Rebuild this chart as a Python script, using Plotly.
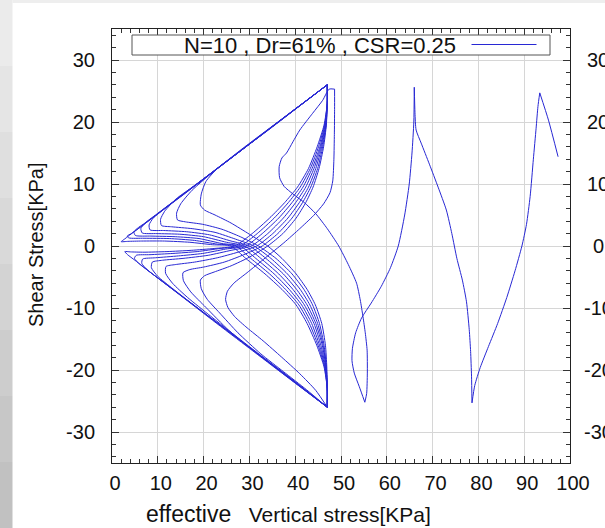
import plotly.graph_objects as go

# ---------------- data ----------------
# first loading: start -> peak near 93
start_x = [97.4, 95.3, 93.4]
start_y = [14.4, 20.3, 24.7]
# unloading: peak 93 -> cusp 78.6
unload1_x = [93.0, 92.6, 92.0, 91.3, 90.5, 89.5, 88.0, 86.2, 84.2, 82.2, 80.4, 79.2, 78.6]
unload1_y = [22.5, 19.0, 14.0, 8.0, 3.5, 0.0, -4.0, -8.3, -12.5, -16.2, -19.6, -22.5, -25.3]
# reloading: cusp 78.6 -> spike 66
reload1_x = [78.5, 78.3, 78.0, 77.4, 76.5, 75.3, 74.2, 73.0, 71.2, 69.3, 67.5, 66.4, 66.15, 66.0]
reload1_y = [-21.0, -17.0, -13.5, -9.0, -5.5, -2.0, 2.0, 5.8, 9.5, 13.2, 16.6, 18.7, 21.5, 25.6]
# unloading: spike 66 -> cusp 55
unload2_x = [65.9, 65.5, 64.9, 63.9, 62.5, 60.8, 58.8, 56.6, 54.5, 53.2, 52.5, 52.4, 52.9, 54.0, 55.2]
unload2_y = [20.0, 15.0, 10.0, 5.0, 0.0, -3.5, -6.5, -9.2, -11.6, -14.0, -16.5, -18.5, -20.5, -22.7, -25.2]
# reload from cusp at 55 up to the first top of the butterfly
approach_x = [55.6, 55.75, 55.7, 55.3, 54.8, 54.2, 53.4, 51.6, 49.5, 47.0, 44.5, 42.0, 39.5, 37.6, 36.6,
              36.5, 37.1, 38.1, 39.5, 41.0, 43.8, 46.0, 47.4, 48.6]
approach_y = [-23.8, -20.5, -16.8, -14.0, -11.4, -8.7, -6.0, -3.0, 0.0, 2.8, 5.2, 7.0, 8.4, 9.6, 11.0,
              12.8, 14.2, 15.0, 16.8, 18.7, 21.4, 23.5, 25.3, 25.3]

# butterfly: descending (top -> knee -> bottom) and ascending (bottom -> knee -> top) branches
d1_x = [48.6, 48.55, 48.45, 48.2, 47.6, 46.2, 44.0, 41.0, 37.5, 33.5, 29.5, 26.6, 25.2, 24.8, 25.3, 26.8, 29.5, 33.0, 37.0, 41.0, 44.5, 47.0]
d1_y = [22.0, 18.0, 14.0, 10.5, 8.6, 6.8, 4.9, 2.8, 0.5, -1.9, -4.3, -6.0, -7.3, -8.6, -9.9, -11.4, -13.2, -15.3, -17.9, -20.6, -23.3, -26.0]
a1_x = [47.0, 46.9, 46.6, 45.8, 44.4, 42.6, 40.2, 37.1, 34.0, 30.0, 26.0, 22.5, 20.2, 19.3, 19.5, 20.5, 23.0, 28.0, 34.0, 40.0, 44.0, 47.0]
a1_y = [-23.0, -19.5, -16.0, -12.5, -9.5, -7.0, -4.5, -2.0, 0.0, 1.9, 3.7, 5.0, 5.8, 6.6, 8.4, 10.4, 12.5, 15.3, 18.7, 22.1, 24.3, 26.0]
d2_x = [47.0, 46.8, 46.2, 45.2, 43.9, 42.3, 40.2, 37.3, 34.0, 30.0, 26.0, 22.3, 20.2, 19.3, 19.5, 20.8, 23.5, 27.5, 32.5, 37.5, 42.5, 47.0]
d2_y = [23.0, 19.5, 16.0, 12.5, 9.5, 7.0, 4.5, 2.0, 0.0, -1.8, -3.2, -4.2, -4.8, -5.5, -6.9, -8.6, -10.8, -14.0, -17.4, -20.3, -23.2, -26.0]
a2_x = [47.0, 46.8, 46.3, 45.3, 43.8, 41.9, 39.3, 35.8, 32.0, 28.0, 24.0, 19.8, 16.0, 14.3, 14.1, 15.0, 17.5, 22.0, 28.0, 34.5, 41.0, 47.0]
a2_y = [-23.0, -19.5, -16.0, -12.5, -9.5, -7.0, -4.5, -2.0, 0.0, 1.5, 2.7, 3.5, 3.9, 4.2, 5.3, 6.8, 9.0, 11.9, 15.3, 18.9, 22.6, 26.0]
d3_x = [47.0, 46.75, 46.0, 44.9, 43.4, 41.6, 39.3, 36.2, 32.8, 28.8, 24.5, 20.0, 17.0, 15.5, 15.6, 17.2, 20.5, 25.5, 31.5, 37.5, 42.5, 47.0]
d3_y = [23.0, 19.5, 16.0, 12.5, 9.5, 7.0, 4.5, 2.0, 0.0, -1.4, -2.6, -3.4, -3.8, -4.3, -5.6, -7.4, -9.9, -13.6, -17.2, -20.5, -23.4, -26.0]
a3_x = [47.0, 46.75, 46.1, 44.9, 43.2, 41.1, 38.3, 34.7, 31.0, 27.0, 22.5, 17.5, 13.0, 10.8, 10.6, 11.5, 14.0, 18.5, 25.0, 32.0, 39.5, 47.0]
a3_y = [-23.0, -19.5, -16.0, -12.5, -9.5, -7.0, -4.5, -2.0, 0.0, 1.1, 2.2, 2.8, 3.1, 3.3, 4.3, 5.6, 7.6, 10.0, 13.6, 17.6, 21.8, 26.0]
d4_x = [47.0, 46.7, 45.8, 44.5, 42.9, 40.9, 38.4, 35.1, 31.6, 27.5, 23.0, 18.0, 13.8, 11.8, 11.7, 13.2, 16.5, 21.5, 27.5, 34.0, 40.5, 47.0]
d4_y = [23.0, 19.5, 16.0, 12.5, 9.5, 7.0, 4.5, 2.0, 0.0, -1.0, -1.9, -2.6, -3.0, -3.3, -4.4, -6.0, -8.3, -11.3, -14.8, -18.5, -22.2, -26.0]
a4_x = [47.0, 46.7, 45.9, 44.5, 42.6, 40.3, 37.4, 33.6, 30.0, 26.0, 21.3, 16.3, 11.3, 8.3, 8.1, 9.0, 11.5, 16.0, 23.0, 31.0, 39.0, 47.0]
a4_y = [-23.0, -19.5, -16.0, -12.5, -9.5, -7.0, -4.5, -2.0, 0.0, 0.8, 1.8, 2.3, 2.5, 2.6, 3.4, 4.5, 6.0, 8.5, 12.5, 17.0, 21.5, 26.0]
d5_x = [47.0, 46.6, 45.6, 44.1, 42.3, 40.1, 37.4, 34.0, 30.4, 26.0, 21.0, 15.5, 11.0, 8.8, 8.6, 10.0, 13.3, 18.5, 25.5, 32.5, 39.5, 47.0]
d5_y = [23.0, 19.5, 16.0, 12.5, 9.5, 7.0, 4.5, 2.0, 0.0, -0.7, -1.5, -2.0, -2.3, -2.6, -3.5, -4.9, -6.9, -9.9, -13.8, -17.8, -21.8, -26.0]
a5_x = [47.0, 46.6, 45.6, 44.1, 42.0, 39.5, 36.4, 32.5, 29.0, 25.0, 20.0, 14.8, 9.8, 6.6, 6.3, 7.2, 9.5, 14.0, 21.0, 29.0, 38.0, 47.0]
a5_y = [-23.0, -19.5, -16.0, -12.5, -9.5, -7.0, -4.5, -2.0, 0.0, 0.6, 1.5, 1.9, 2.0, 2.1, 2.8, 3.7, 5.0, 7.5, 11.4, 16.0, 21.0, 26.0]
d6_x = [47.0, 46.5, 45.4, 43.7, 41.7, 39.3, 36.4, 32.8, 29.2, 24.8, 19.8, 14.5, 9.5, 6.7, 6.5, 7.8, 11.0, 16.0, 23.0, 31.0, 39.0, 47.0]
d6_y = [23.0, 19.5, 16.0, 12.5, 9.5, 7.0, 4.5, 2.0, 0.0, -0.5, -1.2, -1.6, -1.9, -2.1, -2.8, -3.9, -5.7, -8.5, -12.4, -16.9, -21.4, -26.0]
a6_x = [47.0, 46.5, 45.3, 43.6, 41.4, 38.7, 35.4, 31.4, 28.0, 24.0, 19.0, 13.8, 8.5, 5.1, 4.8, 5.8, 8.0, 12.5, 19.5, 27.5, 37.0, 47.0]
a6_y = [-23.0, -19.5, -16.0, -12.5, -9.5, -7.0, -4.5, -2.0, 0.0, 0.4, 1.2, 1.5, 1.6, 1.7, 2.3, 3.0, 4.1, 6.6, 10.5, 15.0, 20.4, 26.0]
d7_x = [47.0, 46.4, 45.1, 43.3, 41.1, 38.5, 35.4, 31.7, 28.0, 23.6, 18.6, 13.3, 8.3, 5.3, 4.9, 6.0, 9.0, 14.0, 21.0, 29.0, 38.0, 47.0]
d7_y = [23.0, 19.5, 16.0, 12.5, 9.5, 7.0, 4.5, 2.0, 0.0, -0.4, -0.9, -1.2, -1.4, -1.5, -2.0, -2.9, -4.6, -7.4, -11.3, -15.8, -20.9, -26.0]
a7_x = [47.0, 46.4, 45.0, 43.1, 40.8, 37.9, 34.4, 30.3, 27.0, 23.0, 18.0, 12.5, 7.0, 3.7, 3.3, 4.2, 6.5, 11.0, 18.0, 26.0, 36.0, 47.0]
a7_y = [-23.0, -19.5, -16.0, -12.5, -9.5, -7.0, -4.5, -2.0, 0.0, 0.3, 0.9, 1.2, 1.25, 1.3, 1.6, 2.0, 3.2, 5.8, 9.7, 14.2, 19.8, 26.0]
d8_x = [47.0, 46.3, 44.8, 42.9, 40.5, 37.7, 34.4, 30.6, 26.8, 22.3, 17.3, 12.0, 7.0, 4.0, 2.8, 3.4, 5.0, 9.0, 15.0, 22.0, 30.0, 38.0, 47.0]
d8_y = [23.0, 19.5, 16.0, 12.5, 9.5, 7.0, 4.5, 2.0, 0.0, -0.4, -0.7, -0.9, -1.0, -0.95, -0.9, -1.4, -2.3, -4.6, -8.0, -12.0, -16.5, -21.0, -26.0]
a8_x = [47.0, 46.3, 44.7, 42.6, 40.2, 37.1, 33.4, 29.2, 26.0, 22.0, 17.0, 11.5, 6.5, 3.5, 2.0, 2.8, 5.0, 9.5, 16.0, 24.0, 34.0, 47.0]
a8_y = [-23.0, -19.5, -16.0, -12.5, -9.5, -7.0, -4.5, -2.0, 0.0, 0.2, 0.6, 0.8, 0.8, 0.75, 0.7, 1.15, 2.4, 4.9, 8.6, 13.1, 18.7, 26.0]

legend_text = "N=10 , Dr=61% , CSR=0.25"
x_ticks = [0, 10, 20, 30, 40, 50, 60, 70, 80, 90, 100]
y_ticks = [30, 20, 10, 0, -10, -20, -30]

# ---------------- build path (one trace per branch so the reversal points stay sharp) ----------------
segments = [(start_x, start_y), (unload1_x, unload1_y), (reload1_x, reload1_y),
            (unload2_x, unload2_y), (approach_x, approach_y),
            (d1_x, d1_y), (a1_x, a1_y), (d2_x, d2_y), (a2_x, a2_y),
            (d3_x, d3_y), (a3_x, a3_y), (d4_x, d4_y), (a4_x, a4_y),
            (d5_x, d5_y), (a5_x, a5_y), (d6_x, d6_y), (a6_x, a6_y),
            (d7_x, d7_y), (a7_x, a7_y), (d8_x, d8_y), (a8_x, a8_y)]

LINE = "rgb(40,40,212)"
FONT = "Liberation Sans, Arial, sans-serif"

fig = go.Figure()
prev = None
for sx, sy in segments:
    bx = ([prev[0]] if prev else []) + list(sx)
    by = ([prev[1]] if prev else []) + list(sy)
    fig.add_trace(go.Scatter(x=bx, y=by, mode="lines",
                             line=dict(color=LINE, width=1, shape="spline", smoothing=0.6),
                             showlegend=False, hoverinfo="skip"))
    prev = (sx[-1], sy[-1])

W, H = 605, 528
L, R, T, B = 112, 35, 29, 65
pw, ph = W - L - R, H - T - B

def px(xp):
    return (xp - L) / pw

def py(yp):
    return (H - B - yp) / ph

axis_common = dict(showline=True, linecolor="#222", linewidth=1, mirror="allticks",
                   ticks="inside", ticklen=7, tickcolor="#333", tickwidth=1,
                   showgrid=True, gridcolor="#d6d6d6", gridwidth=1, zeroline=False,
                   tickfont=dict(family=FONT, size=20, color="#111"))

fig.update_xaxes(range=[0, 100], tickvals=x_ticks, ticktext=[str(v) for v in x_ticks],
                 minor=dict(dtick=2, ticks="inside", ticklen=4, tickcolor="#333", showgrid=False),
                 ticklabelstandoff=2, ticklabelshift=3, **axis_common)
fig.update_yaxes(range=[-35, 35], tickvals=y_ticks, ticktext=[str(v) for v in y_ticks],
                 minor=dict(dtick=2, ticks="inside", ticklen=4, tickcolor="#333", showgrid=False),
                 ticklabelstandoff=12, **axis_common)

shapes = []
# gray frame around the white panel (left strip with gradient, thin top strip)
grays = ["#ebebeb", "#e5e5e5", "#dfdfdf", "#d9d9d9", "#d3d3d3", "#cdcdcd", "#c7c7c7", "#c1c1c1"]
nb = len(grays)
for i, g in enumerate(grays):
    y_top = i * H / nb
    y_bot = (i + 1) * H / nb
    shapes.append(dict(type="rect", xref="paper", yref="paper", x0=px(0), x1=px(12.5),
                       y0=py(y_bot), y1=py(y_top), fillcolor=g, line=dict(width=0), layer="below"))
shapes.append(dict(type="rect", xref="paper", yref="paper", x0=px(12.5), x1=px(W),
                   y0=py(3), y1=py(0), fillcolor="#eeeeee", line=dict(width=0), layer="below"))
# legend box and sample line
shapes.append(dict(type="rect", xref="paper", yref="paper", x0=px(132), x1=px(550),
                   y0=py(55), y1=py(35), fillcolor="white", line=dict(color="#555", width=1), layer="above"))
shapes.append(dict(type="line", xref="paper", yref="paper", x0=px(471.5), x1=px(536.5),
                   y0=py(44.5), y1=py(44.5), line=dict(color=LINE, width=1), layer="above"))

annotations = [
    dict(text=legend_text, xref="paper", yref="paper", x=px(458), y=py(45.5),
         xanchor="right", yanchor="middle", showarrow=False,
         font=dict(family=FONT, size=22, color="#111")),
    dict(text="Shear Stress[KPa]", xref="paper", yref="paper", x=px(36), y=py(245),
         textangle=-90, xanchor="center", yanchor="middle", showarrow=False,
         font=dict(family=FONT, size=20, color="#111")),
    dict(text="<span style='font-size:23px'>effective</span>&nbsp;&nbsp; Vertical stress[KPa]",
         xref="paper", yref="paper", x=px(144), y=py(514), xanchor="left", yanchor="middle",
         showarrow=False, font=dict(family=FONT, size=21, color="#111")),
]
# cut-off tick labels of the neighbouring chart at the right edge
for v in y_ticks:
    annotations.append(dict(text=str(v), xref="paper", yref="y", x=px(598), y=v,
                            xanchor="center", yanchor="middle", showarrow=False,
                            font=dict(family=FONT, size=20, color="#111")))

fig.update_layout(width=W, height=H, margin=dict(l=L, r=R, t=T, b=B),
                  paper_bgcolor="white", plot_bgcolor="white",
                  shapes=shapes, annotations=annotations, showlegend=False)

fig.write_html("out.html")
